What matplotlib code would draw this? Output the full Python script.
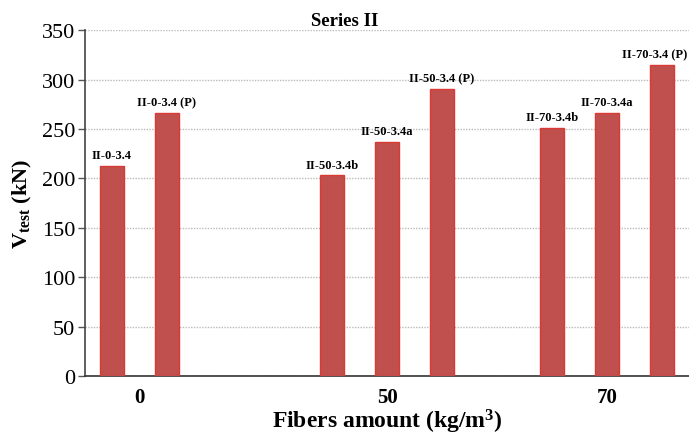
import matplotlib
matplotlib.use("Agg")
import matplotlib.pyplot as plt
import numpy as np

plt.rcParams['font.family'] = ['Liberation Serif', 'DejaVu Serif']
plt.rcParams['mathtext.fontset'] = 'custom'
plt.rcParams['mathtext.rm'] = 'Liberation Serif'
plt.rcParams['mathtext.bf'] = 'Liberation Serif:bold'
plt.rcParams['mathtext.it'] = 'Liberation Serif:italic'

# Shear strength per specimen, grouped by fibre dosage
groups = ["0", "50", "70"]
specimens = [
    ["II-0-3.4", "II-0-3.4 (P)"],
    ["II-50-3.4b", "II-50-3.4a", "II-50-3.4 (P)"],
    ["II-70-3.4b", "II-70-3.4a", "II-70-3.4 (P)"],
]
v_test = [
    [213, 266],
    [203, 237, 290],
    [251, 266, 315],
]
y_ticks = [0, 50, 100, 150, 200, 250, 300, 350]

# bar slots: groups separated by empty gaps
group_start = [0, 4, 8]

fig = plt.figure(figsize=(6.89, 4.39), dpi=100)
ax = fig.add_axes([0.1234, 0.141, 0.8766, 0.788])

bar_color = "#C0504D"
edge_color = "#DA3A36"
tick_pos = []
labels = []
for start, names, vals in zip(group_start, specimens, v_test):
    xs = start + np.arange(len(vals))
    ax.bar(xs, vals, width=0.44, color=bar_color, edgecolor=edge_color,
           linewidth=1.0, zorder=3)
    for x, v, n in zip(xs, vals, names):
        t = ax.annotate(n, (x, v), xytext=(0, 3.5), textcoords="offset points",
                        ha="center", va="bottom", fontsize=9,
                        fontweight="bold", zorder=4, annotation_clip=False)
        labels.append(t)
    tick_pos.append(xs.mean())

ax.set_xlim(-0.49, 10.49)
ax.set_ylim(0, 350)
ax.set_yticks(y_ticks)
ax.set_xticks(tick_pos)
ax.set_xticklabels(groups, fontsize=15, fontweight="bold")
ax.tick_params(axis="x", length=0, pad=8)
ax.tick_params(axis="y", length=5, width=1, color="#555555", labelsize=16, pad=2)

ax.yaxis.grid(True, linestyle=(0, (1, 1)), color="#BBBBBB", linewidth=1.0, zorder=0)
ax.set_axisbelow(True)
for s in ("top", "right"):
    ax.spines[s].set_visible(False)
ax.spines["left"].set_color("#444444")
ax.spines["bottom"].set_color("#333333")
ax.spines["left"].set_linewidth(1.2)
ax.spines["bottom"].set_linewidth(1.2)

ax.set_ylabel(r"$\mathbf{V}_{\mathbf{test}}$ (kN)", fontsize=16, fontweight="bold", labelpad=6)
ax.set_xlabel(r"Fibers amount (kg/m$^{\mathbf{3}}$)", fontsize=17, fontweight="bold", labelpad=0)
fig.text(0.50, 0.952, "Series II", ha="center", va="center", fontsize=13.5, fontweight="bold")

# keep bar labels inside the figure: nudge any that run past the right edge
fig.canvas.draw()
renderer = fig.canvas.get_renderer()
fig_w = fig.bbox.width
for t in labels:
    bb = t.get_window_extent(renderer)
    overflow = bb.x1 - (fig_w - 2)
    if overflow > 0:
        dx_pt = overflow * 72.0 / fig.dpi
        t.set_position((-dx_pt, 3.5))

fig.savefig("out.png", dpi=100)
